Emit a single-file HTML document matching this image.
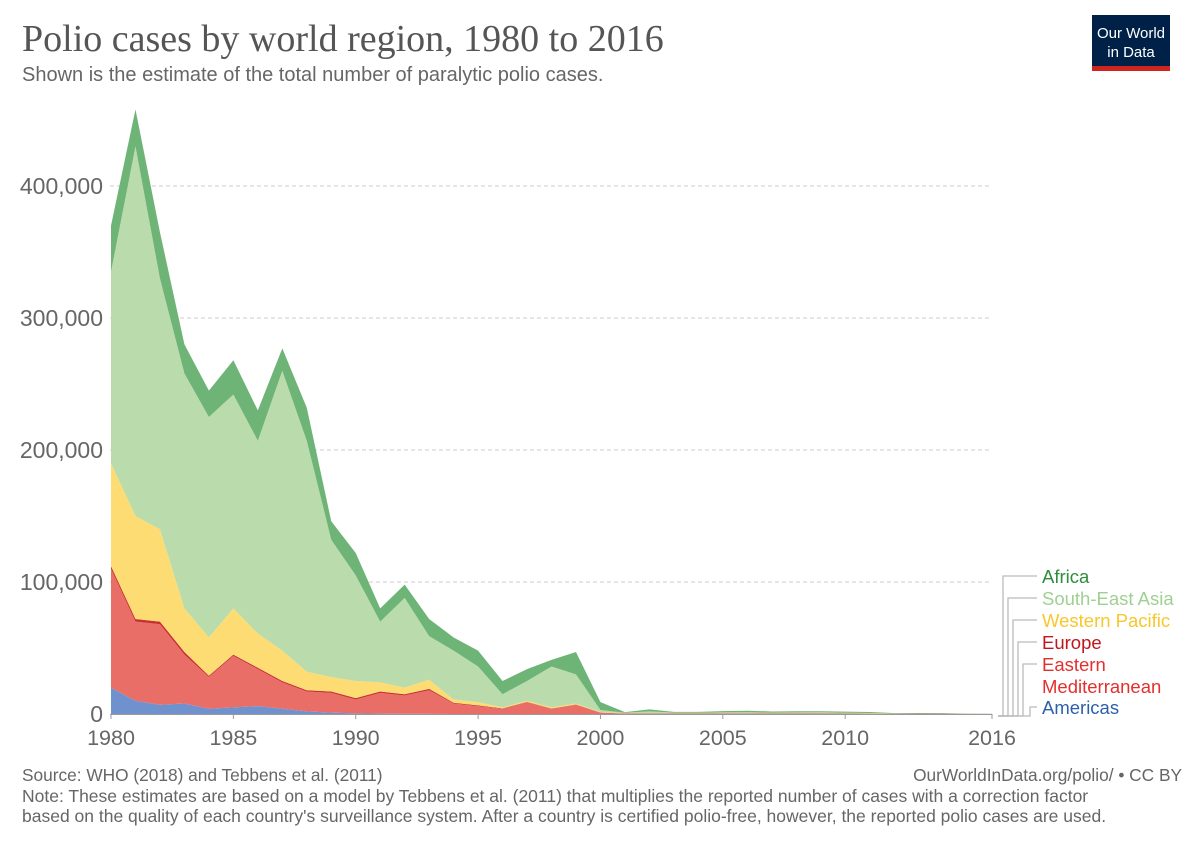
<!DOCTYPE html>
<html><head><meta charset="utf-8"><style>
body{margin:0;background:#fff;}
svg text{font-family:"Liberation Sans",sans-serif;}
</style></head><body>
<svg width="1200" height="847" xmlns="http://www.w3.org/2000/svg">
<text x="22" y="51" style="font-family:'Liberation Serif',serif" font-size="38" fill="#555">Polio cases by world region, 1980 to 2016</text>
<text x="22" y="81" font-size="20" fill="#666">Shown is the estimate of the total number of paralytic polio cases.</text>
<g>
<rect x="1092" y="15" width="78" height="56" fill="#002147"/>
<rect x="1092" y="66" width="78" height="5" fill="#ce261e"/>
<text x="1131" y="38" font-size="15" fill="#fff" text-anchor="middle">Our World</text>
<text x="1131" y="57" font-size="15" fill="#fff" text-anchor="middle">in Data</text>
</g>
<g id="grid"></g>
<g id="areas"></g>
<g id="axes"></g>
<g id="legend"></g>
<text x="22" y="781" font-size="17.3" fill="#666">Source: WHO (2018) and Tebbens et al. (2011)</text>
<text x="1182" y="781" font-size="17.3" fill="#666" text-anchor="end">OurWorldInData.org/polio/ • CC BY</text>
<text x="22" y="802" font-size="17.5" fill="#666">Note: These estimates are based on a model by Tebbens et al. (2011) that multiplies the reported number of cases with a correction factor</text>
<text x="22" y="822" font-size="17.5" fill="#666">based on the quality of each country's surveillance system. After a country is certified polio-free, however, the reported polio cases are used.</text>
</svg>
<script>
const years=[];for(let y=1980;y<=2016;y++)years.push(y);
// values in thousands of cases (per region, not cumulative)
const americas=[20,10,7,8,4,5,6,4,2,1,0.5,0.3,0.2,0.1,0,0,0,0,0,0,0,0,0,0,0,0,0,0,0,0,0,0,0,0,0,0,0];
const eastMed=[90,60,61,37,24,39,28,20,15,15,10.5,15.7,13.8,17.9,8,6,4,9,4,7,1,0.4,0.5,0.4,0.4,0.5,0.5,0.4,0.4,0.4,0.3,0.3,0.2,0.3,0.3,0.1,0.1];
const europe=[2,2,2,2,1,1,1,1,1,1,1,1,1,1,0.5,0.5,0.3,0.2,0.2,0.2,0.1,0,0,0,0,0,0,0,0,0,0.2,0,0,0,0,0,0];
const westPac=[78,78,70,33,29,35,26,23,14,11,13,7,5,7,2.5,2.5,0.7,0.8,0.8,0.8,0.4,0.1,0,0,0,0,0,0,0,0,0,0.2,0,0,0,0,0];
const seAsia=[145,280,190,178,167,162,146,212,175,104,80,46,68,33,37,27,10,15,31,22,1.5,0.4,1.5,0.6,0.6,0.7,0.8,0.7,0.8,0.9,0.5,0.3,0.1,0,0,0,0];
const africa=[35,28,35,22,20,26,23,17,25,14,17,10,10,13,10,12,10,9,5,17,6,0.5,1.5,0.6,0.6,1,1.2,0.8,0.9,0.8,0.8,0.7,0.4,0.5,0.4,0.2,0.1];
const seriesData=[americas,eastMed,europe,westPac,seAsia,africa];
const seriesNames=["americas","eastern-mediterranean","europe","western-pacific","south-east-asia","africa"];
const fills=["#6f92cf","#ea6e68","#c8312e","#fddc73","#badbab","#6eb476"];
const yTicks=[0,100,200,300,400];
const yTickLabels=["0","100,000","200,000","300,000","400,000"];
const xTicks=[1980,1985,1990,1995,2000,2005,2010,2016];
const NS="http://www.w3.org/2000/svg";
const X=y=>111+(y-1980)*(992-111)/36;
const Y=v=>714-v*1.32;
const g=document.getElementById('grid'),a=document.getElementById('areas'),ax=document.getElementById('axes'),lg=document.getElementById('legend');
function mk(tag,attrs,parent){const e=document.createElementNS(NS,tag);for(const k in attrs)e.setAttribute(k,attrs[k]);parent.appendChild(e);return e;}
yTicks.forEach((t,i)=>{
 if(t>0){const l=mk('line',{x1:110,x2:990,y1:Y(t),y2:Y(t),stroke:'#ccc','stroke-dasharray':'4,3'},g);
 
 }
 const tx=mk('text',{x:103,y:Y(t)+8,'font-size':23,fill:'#666','text-anchor':'end'},ax);tx.textContent=yTickLabels[i];
 
 
});
let base=years.map(()=>0);
seriesData.forEach((s,si)=>{
 const top=base.map((b,i)=>b+s[i]);
 let d='M'+years.map((y,i)=>X(y)+','+Y(top[i])).join('L');
 for(let i=years.length-1;i>=0;i--)d+='L'+X(years[i])+','+Y(base[i]);
 d+='Z';
 const p=mk('path',{d:d,fill:fills[si]},a);
 
 
 base=top;
});
const axl=mk('line',{x1:110,x2:992,y1:714.5,y2:714.5,stroke:'#999'},ax);


xTicks.forEach(t=>{
 mk('line',{x1:X(t),x2:X(t),y1:714,y2:719,stroke:'#999'},ax);
 const tx=mk('text',{x:X(t),y:745,'font-size':21.5,fill:'#666','text-anchor':'middle'},ax);tx.textContent=t;
 
 
});
const legItems=[["Africa","#2e8d3c",[583]],["South-East Asia","#a0d091",[605]],["Western Pacific","#f7c72c",[627]],["Europe","#c1161c",[649]],["Eastern","#e3302d",[671,693]],["Americas","#2e60a9",[714]]];
const legendLabels=["Africa","South-East Asia","Western Pacific","Europe","Eastern Mediterranean","Americas"];
const vx=[1003,1008,1013,1018,1023,1030];
const lineY=[576,598,620,642,664,707];
legItems.forEach((it,i)=>{
 const ly=lineY[i];
 mk('path',{d:`M998,716L${vx[i]},716L${vx[i]},${ly}L1037,${ly}`,fill:'none',stroke:'#bbb','stroke-width':1.3},lg);
 const t=mk('text',{x:1042,y:it[2][0],'font-size':18.5,fill:it[1]},lg);
 if(i===4){t.textContent='Eastern';const t2=mk('text',{x:1042,y:it[2][1],'font-size':18.5,fill:it[1]},lg);t2.textContent='Mediterranean';}
 else t.textContent=legendLabels[i];
 
 
});
</script>
</body></html>
